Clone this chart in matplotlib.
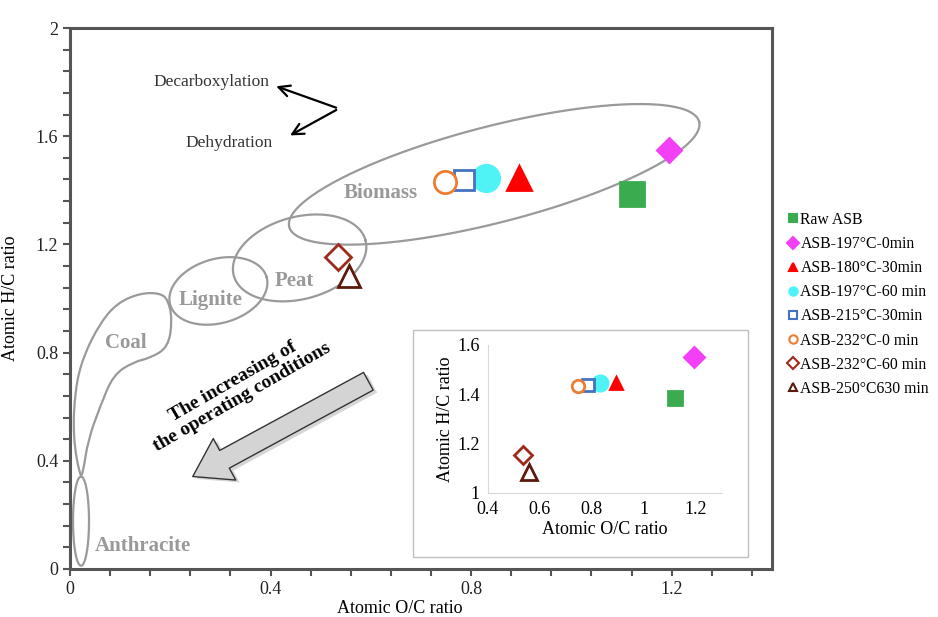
import numpy as np
import matplotlib
matplotlib.use('Agg')
import matplotlib.pyplot as plt
from matplotlib.lines import Line2D
from matplotlib.patches import FancyArrowPatch, PathPatch, Rectangle
from matplotlib.path import Path

plt.rcParams['font.family'] = ['Liberation Serif', 'DejaVu Serif']

# samples (atomic O/C, atomic H/C)
labels = ['Raw ASB', 'ASB-197°C-0min', 'ASB-180°C-30min', 'ASB-197°C-60 min',
          'ASB-215°C-30min', 'ASB-232°C-0 min', 'ASB-232°C-60 min', 'ASB-250°C630 min']
oc = [1.12, 1.195, 0.895, 0.83, 0.785, 0.748, 0.535, 0.557]
hc = [1.385, 1.55, 1.447, 1.445, 1.437, 1.432, 1.152, 1.085]

# marker styles: (marker, face, edge, main size, inset size)
styles = [('s', '#3aab4e', '#3aab4e', 17, 10),
          ('D', '#f33ff5', '#f33ff5', 12, 10),
          ('^', '#ff0000', '#ff0000', 17, 9),
          ('o', '#4ff2f5', '#4ff2f5', 19, 11),
          ('s', 'white', '#4472c4', 14, 8),
          ('o', 'white', '#ed7d31', 16, 9),
          ('D', 'white', '#9e2a1c', 13, 9),
          ('^', 'white', '#5c1a0c', 16, 11)]

# van Krevelen regions (centre O/C, centre H/C, semi-axes in O/C units, angle)
regions = {'Biomass': (0.846, 1.459, 0.422, 0.096, 14.4),
           'Peat': (0.458, 1.150, 0.136, 0.082, 15),
           'Lignite': (0.296, 1.028, 0.100, 0.064, 16),
           'Anthracite': (0.022, 0.177, 0.089, 0.016, 90)}
coal_oc = [0.02, 0.006, 0.01, 0.026, 0.06, 0.094, 0.14, 0.18, 0.196, 0.204,
           0.196, 0.16, 0.126, 0.086, 0.06, 0.036, 0.026]
coal_hc = [0.34, 0.488, 0.662, 0.784, 0.909, 0.983, 1.02, 1.02, 0.994, 0.92,
           0.82, 0.78, 0.765, 0.717, 0.6, 0.477, 0.355]
region_text = {'Biomass': (0.62, 1.39), 'Peat': (0.448, 1.065), 'Lignite': (0.28, 0.994),
               'Coal': (0.112, 0.835), 'Anthracite': (0.146, 0.085)}

fig = plt.figure(figsize=(9.38, 6.17), dpi=100)
ax = fig.add_axes([0.0746, 0.0778, 0.7484, 0.8768])
ax.set_xlim(0, 1.4)
ax.set_ylim(0, 2)

# ratio to keep the ellipses in screen proportions
px_x = 0.7484 * 938 / 1.4
px_y = 0.8768 * 617 / 2.0
k = px_x / px_y

t = np.linspace(0, 2 * np.pi, 300)
for name, (cx, cy, a, b, ang) in regions.items():
    th = np.deg2rad(ang)
    dx = a * np.cos(t) * np.cos(th) - b * np.sin(t) * np.sin(th)
    dy = a * np.cos(t) * np.sin(th) + b * np.sin(t) * np.cos(th)
    ax.plot(cx + dx, cy + dy * k, color='#9a9a9a', lw=1.6, zorder=2)

# coal outline as a closed smooth path
pts = np.column_stack([coal_oc, coal_hc])
n = len(pts)
mids = (pts + np.roll(pts, -1, axis=0)) / 2
verts = [mids[-1]]
codes = [Path.MOVETO]
for i in range(n):
    verts += [pts[i], mids[i]]
    codes += [Path.CURVE3, Path.CURVE3]
ax.add_patch(PathPatch(Path(verts, codes), fill=False, ec='#9a9a9a', lw=1.6, zorder=2))

for name, (x, y) in region_text.items():
    ax.text(x, y, name, color='#999999', fontsize=15, fontweight='bold',
            ha='center', va='center', zorder=3)

for x, y, (m, fc, ec, ms, _) in zip(oc, hc, styles):
    ax.plot(x, y, marker=m, ms=ms, mfc=fc, mec=ec, mew=2, ls='none', zorder=5)

# reaction arrows
ax.text(0.282, 1.8, 'Decarboxylation', fontsize=12.5, color='#333333',
        ha='center', va='center')
ax.text(0.318, 1.575, 'Dehydration', fontsize=12.5, color='#333333',
        ha='center', va='center')
ax.annotate('', xy=(0.406, 1.788), xytext=(0.536, 1.702),
            arrowprops=dict(arrowstyle='->', lw=1.6, color='black', mutation_scale=20))
ax.annotate('', xy=(0.434, 1.598), xytext=(0.536, 1.702),
            arrowprops=dict(arrowstyle='->', lw=1.6, color='black', mutation_scale=20))

# big arrow for operating conditions
shadow = FancyArrowPatch((0.608, 0.69), (0.248, 0.328),
                         arrowstyle='simple,head_width=3.4,head_length=2.6,tail_width=1.45',
                         mutation_scale=10, fc='#bbbbbb', ec='none', alpha=0.6, zorder=3)
ax.add_patch(shadow)
big = FancyArrowPatch((0.6, 0.699), (0.24, 0.337),
                      arrowstyle='simple,head_width=3.4,head_length=2.6,tail_width=1.45',
                      mutation_scale=10, fc='#d4d4d4', ec='#333333', lw=1, zorder=4)
ax.add_patch(big)
ax.text(0.334, 0.665, 'The increasing of\nthe operating conditions', rotation=30,
        fontsize=14, fontweight='bold', ha='center', va='center', linespacing=1.05,
        rotation_mode='anchor')

# axes styling
for s in ax.spines.values():
    s.set_color('#555555')
    s.set_linewidth(2.2)
ax.set_xticks(np.arange(0, 1.37, 0.08), minor=True)
ax.set_yticks(np.arange(0, 2.01, 0.08), minor=True)
ax.set_xticks([0, 0.4, 0.8, 1.2])
ax.set_xticklabels(['0', '0.4', '0.8', '1.2'])
ax.set_yticks([0, 0.4, 0.8, 1.2, 1.6, 2])
ax.set_yticklabels(['0', '0.4', '0.8', '1.2', '1.6', '2'])
ax.tick_params(which='both', direction='out', length=5, width=1.5, color='#555555',
               labelsize=13, labelcolor='#222222')
ax.set_xlabel('Atomic O/C ratio', fontsize=13)
ax.xaxis.set_label_coords(0.47, -0.058)
ax.set_ylabel('Atomic H/C ratio', fontsize=13)
ax.yaxis.set_label_coords(-0.072, 0.5)

# inset
fig.add_artist(Rectangle((413 / 938, 1 - 557 / 617), 335 / 938, 227 / 617,
                         transform=fig.transFigure, fill=True, fc='white',
                         ec='#bfbfbf', lw=1, zorder=6))
ins = fig.add_axes([0.520, 0.201, 0.2495, 0.240], zorder=7)
ins.patch.set_alpha(0)
ins.set_xlim(0.4, 1.3)
ins.set_ylim(1, 1.6)
for x, y, (m, fc, ec, _, ms) in zip(oc, hc, styles):
    ins.plot(x, y, marker=m, ms=ms, mfc=fc, mec=ec, mew=2, ls='none')
ins.spines['top'].set_visible(False)
ins.spines['right'].set_visible(False)
ins.spines['left'].set_color('#d9d9d9')
ins.spines['bottom'].set_color('#d9d9d9')
ins.set_xticks([0.4, 0.6, 0.8, 1.0, 1.2])
ins.set_xticklabels(['0.4', '0.6', '0.8', '1', '1.2'])
ins.set_yticks([1, 1.2, 1.4, 1.6])
ins.set_yticklabels(['1', '1.2', '1.4', '1.6'])
ins.tick_params(length=0, labelsize=13, pad=6)
ins.set_xlabel('Atomic O/C ratio', fontsize=13, labelpad=2)
ins.set_ylabel('Atomic H/C ratio', fontsize=13, labelpad=2)

# legend
handles = [Line2D([], [], marker=m, ms=6, mfc=fc, mec=ec, mew=1.5, ls='none')
           for (m, fc, ec, _, _) in styles]
fig.legend(handles, labels, loc='upper left', bbox_to_anchor=(780 / 938, 1 - 204 / 617),
           frameon=False, fontsize=11.3, handlelength=0.6, handletextpad=0.2,
           labelspacing=0.52, borderpad=0)

fig.savefig('out.png', dpi=100)
